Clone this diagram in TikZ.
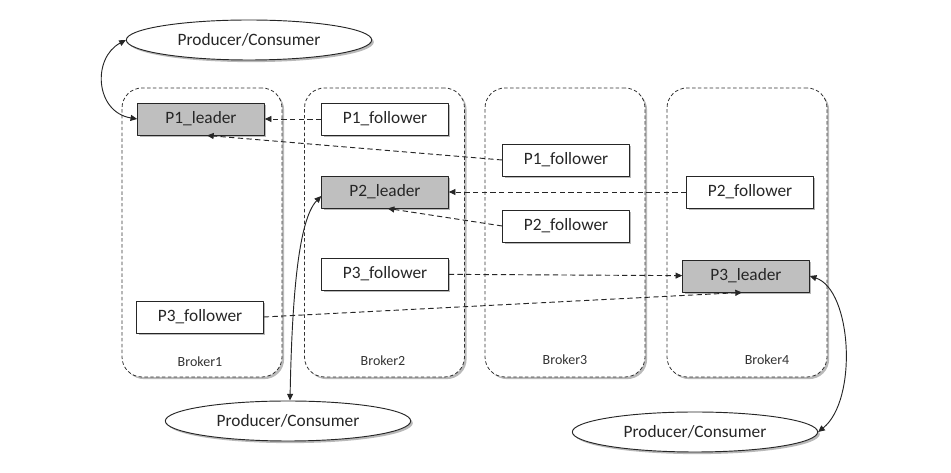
\documentclass[tikz,border=0pt]{standalone}
\usepackage{fontspec}
\setmainfont{Carlito}
\usetikzlibrary{arrows.meta,shapes.geometric,shadows}

\begin{document}
\begin{tikzpicture}[x=0.75pt,y=-0.75pt,line join=round,>={Triangle[length=5pt,width=4.5pt]},
    shade/.style={drop shadow={opacity=0.55,shadow xshift=1.6pt,shadow yshift=-1.6pt}},
    broker/.style={draw=black!80,line width=0.6pt,dash pattern=on 2.6pt off 1.8pt,rounded corners=15pt,
        fill=white,minimum width=120pt,minimum height=216.75pt,inner sep=0pt,shade},
    brokerlabel/.style={font=\fontsize{10.5}{12}\selectfont,text=black!80,inner sep=0pt},
    part/.style={draw=black!85,line width=0.7pt,fill=white,minimum width=95pt,minimum height=24pt,
        inner sep=0pt,font=\fontsize{13}{15}\selectfont,text=black!85,shade},
    leader/.style={part,fill=black!25},
    client/.style={ellipse,draw=black!85,line width=0.7pt,fill=white,minimum width=184pt,minimum height=30pt,
        inner sep=0pt,font=\fontsize{13}{15}\selectfont,text=black!85,shade},
    sync/.style={->,draw=black!85,line width=0.7pt,dash pattern=on 4pt off 2.5pt},
    talk/.style={<->,draw=black!85,line width=0.7pt}]
    \useasboundingbox (0,0) rectangle (951,473);
    % brokers
    \node[broker] (b1) at (202,232.5) {};
    \node[broker] (b2) at (384.5,232.5) {};
    \node[broker] (b3) at (565,232.5) {};
    \node[broker] (b4) at (747,232.5) {};
    \node[brokerlabel] (l1) at (200,362) {Broker1};
    \node[brokerlabel] (l2) at (383,361) {Broker2};
    \node[brokerlabel] (l3) at (565,360) {Broker3};
    \node[brokerlabel] (l4) at (767,360) {Broker4};
    % partitions
    \node[leader] (p1l) at (201,119) {P1\_leader};
    \node[part] (p1f2) at (385,119) {P1\_follower};
    \node[part] (p1f3) at (566,160) {P1\_follower};
    \node[leader] (p2l) at (385,192) {P2\_leader};
    \node[part] (p2f4) at (750,192) {P2\_follower};
    \node[part] (p2f3) at (566,226) {P2\_follower};
    \node[part] (p3f2) at (385,274) {P3\_follower};
    \node[leader] (p3l) at (746,276) {P3\_leader};
    \node[part] (p3f1) at (200,317) {P3\_follower};
    % clients
    \node[client] (pc1) at (249,40) {Producer/Consumer};
    \node[client] (pc2) at (288,421) {Producer/Consumer};
    \node[client] (pc3) at (695,432) {Producer/Consumer};
    % replication
    \draw[sync] (p1f2) -- (p1l);
    \draw[sync] (p1f3.west) -- ([xshift=4.5pt]p1l.south);
    \draw[sync] (p2f4) -- (p2l);
    \draw[sync] (p2f3.west) -- ([xshift=2pt]p2l.south);
    \draw[sync] (p3f2) -- (p3l);
    \draw[sync] (p3f1.east) -- ([xshift=-3pt]p3l.south);
    % producers and consumers
    \draw[talk] (pc1.west) .. controls (92,58) and (95,112) .. (p1l.west);
    \draw[talk] ([xshift=1.5pt]pc2.north) .. controls (292,300) and (298,220) .. ([yshift=-3pt]p2l.west);
    \draw[talk] (p3l.east) .. controls (852,290) and (858,400) .. (pc3.east);
\end{tikzpicture}
\end{document}
